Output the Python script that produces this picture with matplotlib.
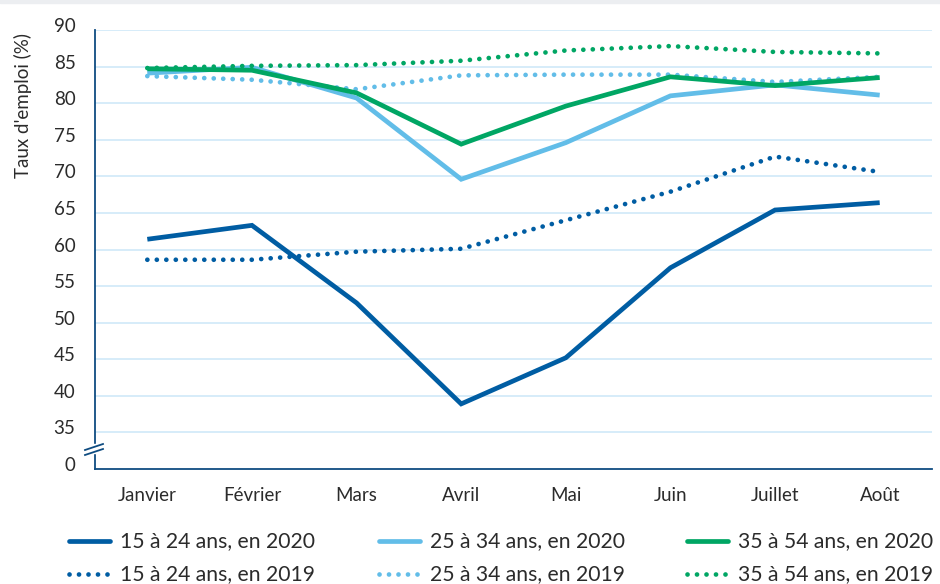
import matplotlib
matplotlib.use("Agg")
import matplotlib.pyplot as plt
from matplotlib.lines import Line2D
from matplotlib.patches import Rectangle
from matplotlib.transforms import ScaledTranslation

plt.rcParams['font.family'] = ['Lato', 'DejaVu Sans']

months = ["Janvier", "Février", "Mars", "Avril", "Mai", "Juin", "Juillet", "Août"]
y15_2020 = [61.4, 63.3, 52.7, 38.9, 45.2, 57.5, 65.4, 66.4]
y25_2020 = [84.1, 84.9, 80.7, 69.6, 74.6, 81.0, 82.5, 81.1]
y35_2020 = [84.7, 84.5, 81.4, 74.4, 79.6, 83.6, 82.4, 83.5]
y15_2019 = [58.6, 58.6, 59.7, 60.1, 64.0, 67.9, 72.7, 70.6]
y25_2019 = [83.7, 83.2, 81.9, 83.8, 83.9, 83.9, 82.9, 83.6]
y35_2019 = [84.8, 85.1, 85.2, 85.8, 87.2, 87.8, 87.0, 86.8]
yticks = [30, 35, 40, 45, 50, 55, 60, 65, 70, 75, 80, 85, 90]
yticklabels = ["0", "35", "40", "45", "50", "55", "60", "65", "70", "75", "80", "85", "90"]

DARK = "#005da3"
LIGHT = "#62bde8"
GREEN = "#00a664"
GRID = "#cfe9f8"
AX = "#0f4c81"
TXT = "#2b2b2b"

W, H = 940, 584
fig = plt.figure(figsize=(W/100, H/100), dpi=100)
fig.patches.append(Rectangle((0, 1 - 3/H), 1, 3/H, transform=fig.transFigure,
                             color="#eceef1", zorder=0))
ax = fig.add_axes([95/W, 1 - 469/H, (932-95)/W, (469-30)/H])

x = list(range(len(months)))
lw = 3.4
dot = (0, (0.01, 2.0))
series = [
    (y15_2020, DARK, '-', "15 à 24 ans, en 2020"),
    (y15_2019, DARK, dot, "15 à 24 ans, en 2019"),
    (y25_2020, LIGHT, '-', "25 à 34 ans, en 2020"),
    (y25_2019, LIGHT, dot, "25 à 34 ans, en 2019"),
    (y35_2020, GREEN, '-', "35 à 54 ans, en 2020"),
    (y35_2019, GREEN, dot, "35 à 54 ans, en 2019"),
]
for vals, col, ls, lab in series:
    if ls == '-':
        ax.plot(x, vals, color=col, lw=lw, ls=ls, solid_capstyle='butt',
                solid_joinstyle='miter', label=lab, zorder=3)
    else:
        ax.plot(x, vals, color=col, lw=lw, ls=ls, dash_capstyle='round',
                label=lab, zorder=3)

ax.set_xlim(-0.5, 7.5)
ax.set_ylim(30, 90)
ax.set_xticks(x)
ax.set_xticklabels(months, fontsize=13.5, color=TXT)
ax.set_yticks(yticks)
ax.set_yticklabels(yticklabels, fontsize=13.5, color=TXT)
ax.tick_params(axis='both', length=0)
ax.tick_params(axis='y', pad=14)
ax.tick_params(axis='x', pad=13)
for lbl in ax.get_yticklabels():
    lbl.set_transform(lbl.get_transform() + ScaledTranslation(0, 5/100, fig.dpi_scale_trans))
for yv in yticks[1:]:
    ax.axhline(yv, color=GRID, lw=1.2, zorder=1)
for s in ['top', 'right']:
    ax.spines[s].set_visible(False)
ax.spines['left'].set_color(AX)
ax.spines['bottom'].set_color(AX)
ax.spines['left'].set_linewidth(1.3)
ax.spines['bottom'].set_linewidth(1.3)
ax.set_ylabel("Taux d'emploi (%)", fontsize=13.5, color=TXT)
ax.yaxis.set_label_coords((32 - 95) / (932 - 95), (469 - 105) / 439)

# axis break marks
bx0, bx1 = 85, 103
fig.add_artist(Rectangle((93/W, 1 - 453/H), 4/W, 9/H, transform=fig.transFigure,
                         color="white", zorder=5))
fig.add_artist(Line2D([bx0/W, bx1/W], [1 - 450/H, 1 - 444/H], color=AX, lw=1.3, zorder=6))
fig.add_artist(Line2D([bx0/W, bx1/W], [1 - 455/H, 1 - 449/H], color=AX, lw=1.3, zorder=6))

# legend (manual layout)
col_x = [67, 377, 685]
row_y = [541, 574]
for i, (vals, col, ls, lab) in enumerate(series):
    c, r = i // 2, i % 2
    x0 = col_x[c]
    yy = 1 - row_y[r] / H
    kw = dict(color=col, lw=lw, ls=ls, transform=fig.transFigure)
    if ls == '-':
        kw['solid_capstyle'] = 'round'
    else:
        kw['dash_capstyle'] = 'round'
    fig.add_artist(Line2D([(x0 + 2)/W, (x0 + 43)/W], [yy, yy], **kw))
    fig.text((x0 + 53)/W, yy, lab, fontsize=15.2, color=TXT, va='center', ha='left')

fig.savefig("out.png", dpi=100)
